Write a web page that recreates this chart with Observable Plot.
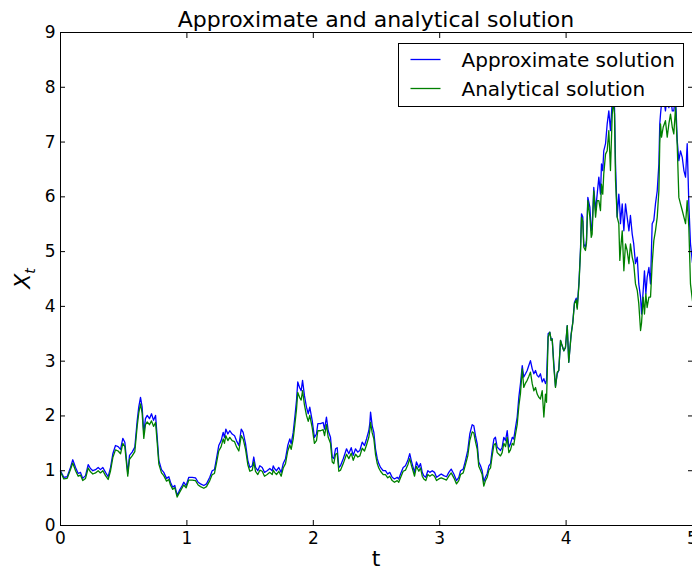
<!DOCTYPE html>
<html>
<head>
<meta charset="utf-8">
<script src="https://cdn.jsdelivr.net/npm/d3@7"></script>
<script src="https://cdn.jsdelivr.net/npm/@observablehq/plot@0.6"></script>
<style>
  body { margin: 0; background: #fff; }
  #chart { position: relative; width: 692px; height: 570px; overflow: hidden; }
  #chart svg.overlay { position: absolute; left: 0; top: 0; pointer-events: none; }
</style>
</head>
<body>
<div id="chart"></div>
<script>
// Time grid of the simulated path
const t = [
  0.000,0.026,0.053,0.079,0.097,0.119,0.140,0.158,0.176,0.198,0.219,0.237,0.256,0.277,0.298,0.316,0.335,0.356,0.377,0.396,
  0.414,0.435,0.456,0.475,0.493,0.509,0.520,0.532,0.546,0.567,0.588,0.607,0.619,0.633,0.646,0.659,0.672,0.686,0.704,0.720,
  0.736,0.752,0.765,0.778,0.799,0.817,0.839,0.857,0.870,0.888,0.904,0.923,0.941,0.963,0.975,0.994,1.015,1.042,1.068,1.089,
  1.108,1.134,1.155,1.181,1.200,1.218,1.234,1.252,1.271,1.287,1.297,1.308,1.324,1.339,1.358,1.377,1.392,1.411,1.430,1.445,
  1.464,1.482,1.498,1.517,1.529,1.543,1.561,1.577,1.596,1.614,1.635,1.656,1.675,1.683,1.693,1.709,1.727,1.746,1.762,1.780,
  1.798,1.814,1.825,1.841,1.854,1.867,1.877,1.891,1.904,1.915,1.930,1.946,1.960,1.972,1.991,2.009,2.025,2.036,2.057,2.078,
  2.089,2.104,2.118,2.136,2.150,2.162,2.176,2.189,2.202,2.215,2.237,2.263,2.281,2.300,2.316,2.334,2.352,2.368,2.387,2.405,
  2.421,2.439,2.447,2.453,2.466,2.479,2.492,2.506,2.518,2.532,2.553,2.571,2.589,2.605,2.624,2.642,2.664,2.676,2.690,2.711,
  2.729,2.748,2.763,2.775,2.790,2.801,2.816,2.835,2.848,2.862,2.874,2.890,2.906,2.922,2.941,2.959,2.975,2.993,3.012,3.032,
  3.054,3.072,3.091,3.112,3.133,3.151,3.165,3.186,3.204,3.222,3.238,3.257,3.270,3.283,3.297,3.309,3.323,3.336,3.349,3.362,
  3.376,3.389,3.402,3.415,3.429,3.441,3.455,3.468,3.481,3.494,3.507,3.521,3.534,3.547,3.560,3.574,3.586,3.600,3.613,3.626,
  3.639,3.653,3.665,3.679,3.692,3.705,3.718,3.732,3.745,3.758,3.771,3.784,3.797,3.811,3.824,3.837,3.845,3.858,3.871,3.882,
  3.890,3.903,3.916,3.930,3.942,3.956,3.969,3.982,3.995,4.009,4.021,4.040,4.053,4.066,4.080,4.088,4.102,4.114,4.122,4.132,
  4.140,4.153,4.161,4.172,4.188,4.199,4.206,4.219,4.233,4.246,4.259,4.272,4.280,4.290,4.298,4.312,4.325,4.338,4.351,4.365,
  4.373,4.383,4.391,4.404,4.417,4.425,4.430,4.444,4.457,4.470,4.483,4.497,4.509,4.523,4.535,4.549,4.563,4.575,4.589,4.597,
  4.610,4.620,4.631,4.641,4.655,4.668,4.681,4.694,4.707,4.721,4.734,4.741,4.747,4.755,4.768,4.786,4.800,4.813,4.826,4.840,
  4.852,4.866,4.879,4.892,4.905,4.919,4.932,4.945,4.958,4.971,4.984,5.000
];

// Euler-Maruyama approximation
const approximate = [
  1.00,0.88,0.89,1.06,1.20,1.06,0.95,0.97,0.86,0.91,1.11,1.04,1.00,1.02,1.06,1.02,1.06,0.97,0.89,1.06,
  1.31,1.46,1.44,1.39,1.59,1.52,1.25,0.95,1.28,1.34,1.43,1.92,2.16,2.34,2.16,1.68,1.95,2.01,1.95,2.04,
  1.92,2.01,1.61,1.19,1.02,0.97,0.86,0.89,0.79,0.70,0.73,0.55,0.64,0.73,0.79,0.73,0.88,0.88,0.87,0.79,
  0.76,0.73,0.76,0.88,1.00,1.02,1.22,1.46,1.55,1.70,1.61,1.76,1.67,1.73,1.67,1.64,1.55,1.46,1.76,1.70,
  1.49,1.19,1.06,1.09,1.25,1.06,1.00,1.09,1.06,0.97,1.00,1.04,1.00,1.09,1.04,1.00,1.06,0.97,1.13,1.22,
  1.46,1.58,1.49,1.70,1.98,2.28,2.62,2.52,2.46,2.65,2.37,2.16,2.04,2.16,1.92,1.61,1.67,1.86,1.86,1.88,
  1.76,1.98,1.73,1.61,1.25,1.22,1.40,1.42,1.06,1.09,1.22,1.40,1.31,1.42,1.28,1.40,1.34,1.37,1.52,1.46,
  1.58,1.73,1.86,2.07,1.82,1.70,1.40,1.22,1.13,1.06,1.00,1.00,0.94,0.97,0.88,0.85,0.88,0.85,0.94,1.06,
  1.09,1.19,1.31,1.19,1.06,0.97,1.16,1.06,1.13,0.97,0.91,0.88,1.00,0.97,1.00,0.97,0.88,0.91,0.94,0.91,
  0.89,0.97,1.03,0.94,0.82,0.88,1.00,1.03,1.19,1.37,1.67,1.84,1.82,1.64,1.49,1.16,1.09,1.00,0.80,0.88,
  0.95,1.09,1.13,1.37,1.58,1.61,1.43,1.40,1.37,1.43,1.61,1.55,1.73,1.43,1.49,1.61,1.58,1.79,1.98,2.34,
  2.59,2.92,2.71,2.77,2.83,2.92,3.01,2.86,2.77,2.83,2.74,2.71,2.77,2.62,2.68,2.59,2.65,3.50,3.53,3.38,
  3.41,2.95,2.54,2.77,2.83,3.38,3.28,3.19,3.25,3.65,2.98,3.50,3.71,4.07,4.15,3.98,4.45,5.05,5.69,5.63,
  5.14,5.08,5.20,5.99,5.81,5.38,5.44,6.17,5.75,6.05,6.36,6.05,6.60,6.48,6.84,6.97,7.33,7.57,7.21,7.75,
  8.15,7.63,6.60,5.63,6.05,5.80,5.51,5.87,5.38,5.87,5.63,5.38,5.66,5.32,5.14,4.78,4.90,4.41,4.17,3.86,
  4.29,4.65,4.23,4.53,4.71,4.41,5.51,5.57,5.87,6.11,6.60,7.33,7.51,7.70,7.90,7.57,7.85,7.63,7.85,7.57,
  7.57,7.85,7.03,6.66,6.84,6.72,6.48,6.36,6.97,5.87,5.14,4.80
];

// Closed-form solution on the same Brownian path
const analytical = [
  0.98,0.85,0.86,1.02,1.14,1.00,0.90,0.92,0.82,0.86,1.05,0.98,0.94,0.96,1.00,0.96,1.00,0.91,0.84,1.00,
  1.24,1.38,1.36,1.31,1.50,1.44,1.18,0.90,1.21,1.27,1.35,1.82,2.05,2.22,2.05,1.59,1.84,1.89,1.84,1.91,
  1.81,1.88,1.51,1.12,0.96,0.91,0.81,0.84,0.74,0.66,0.69,0.52,0.60,0.69,0.74,0.69,0.83,0.83,0.82,0.74,
  0.71,0.68,0.71,0.82,0.93,0.95,1.14,1.36,1.44,1.58,1.50,1.64,1.55,1.61,1.55,1.53,1.44,1.36,1.64,1.58,
  1.39,1.11,0.99,1.01,1.16,0.99,0.93,1.01,0.99,0.90,0.93,0.97,0.93,1.01,0.97,0.93,0.99,0.90,1.05,1.13,
  1.36,1.47,1.39,1.58,1.84,2.12,2.43,2.34,2.29,2.46,2.20,2.01,1.90,2.01,1.79,1.50,1.55,1.73,1.73,1.75,
  1.64,1.84,1.61,1.50,1.16,1.13,1.30,1.32,0.99,1.01,1.13,1.30,1.22,1.32,1.19,1.30,1.25,1.27,1.41,1.36,
  1.47,1.61,1.73,1.88,1.69,1.58,1.30,1.13,1.05,0.99,0.93,0.93,0.87,0.90,0.82,0.79,0.82,0.79,0.87,0.99,
  1.01,1.11,1.22,1.11,0.99,0.90,1.08,0.99,1.05,0.90,0.85,0.82,0.93,0.90,0.93,0.90,0.82,0.85,0.87,0.85,
  0.83,0.90,0.96,0.87,0.76,0.82,0.93,0.96,1.11,1.27,1.55,1.71,1.69,1.53,1.39,1.08,1.01,0.93,0.72,0.82,
  0.88,1.01,1.05,1.27,1.47,1.50,1.33,1.30,1.27,1.33,1.50,1.44,1.61,1.33,1.38,1.50,1.47,1.67,1.84,2.18,
  2.41,2.86,2.52,2.60,2.65,2.72,2.80,2.59,2.46,2.52,2.40,2.34,2.31,2.46,1.98,2.40,2.25,3.44,3.53,3.38,
  3.40,2.89,2.52,2.80,2.83,3.38,3.28,3.19,3.25,3.65,2.98,3.48,3.70,4.05,4.12,3.95,4.41,5.00,5.63,5.55,
  5.08,5.02,5.15,5.93,5.63,5.26,5.32,6.11,5.63,5.93,5.93,5.75,6.23,6.05,6.42,6.78,6.84,7.21,6.48,7.51,
  7.75,7.51,6.30,5.63,5.51,4.84,5.00,5.38,4.65,5.14,5.02,4.78,5.14,4.90,4.78,4.41,4.29,4.05,3.56,3.70,
  4.17,3.86,4.23,3.98,4.17,4.17,4.78,5.20,5.38,5.63,6.11,6.97,7.33,7.09,7.27,7.39,7.09,7.33,7.51,7.27,
  7.15,7.63,6.95,5.99,5.87,5.75,5.63,5.51,5.93,5.44,4.41,4.10
];

const seriesNames = ["Approximate solution", "Analytical solution"];
const seriesColors = ["#0000ff", "#008000"];
const xTicks = [0, 1, 2, 3, 4, 5];
const yTicks = [0, 1, 2, 3, 4, 5, 6, 7, 8, 9];
const titleText = "Approximate and analytical solution";
const xLabel = "t";
const yLabel = ["X", "t"]; // X with subscript t

const approxRows = t.map((ti, i) => ({t: ti, value: approximate[i]}));
const exactRows = t.map((ti, i) => ({t: ti, value: analytical[i]}));

const W = 692, H = 570;
const margin = {top: 32, right: 0, bottom: 45, left: 60};
const intFormat = d3.format("d");

const plot = Plot.plot({
  width: W,
  height: H,
  marginTop: margin.top,
  marginRight: margin.right,
  marginBottom: margin.bottom,
  marginLeft: margin.left,
  style: {fontFamily: "'DejaVu Sans', sans-serif", fontSize: "17px", color: "#000", background: "#fff"},
  x: {domain: [0, 5]},
  y: {domain: [0, 9]},
  marks: [
    Plot.line(approxRows, {x: "t", y: "value", stroke: seriesColors[0], strokeWidth: 1.3}),
    Plot.line(exactRows, {x: "t", y: "value", stroke: seriesColors[1], strokeWidth: 1.3}),
    Plot.frame({stroke: "#000", strokeWidth: 1}),
    Plot.axisX({ticks: xTicks, anchor: "bottom", tickSize: -5, tickPadding: 11, tickFormat: intFormat, label: null}),
    Plot.axisX({ticks: xTicks, anchor: "top", tickSize: -5, fill: "none", label: null}),
    Plot.axisY({ticks: yTicks, anchor: "left", tickSize: -5, tickPadding: 10, tickFormat: intFormat, label: null}),
    Plot.axisY({ticks: yTicks, anchor: "right", tickSize: -5, fill: "none", label: null})
  ]
});

const chart = document.getElementById("chart");
chart.appendChild(plot);

// Title, axis labels and legend drawn on a layer above the plot
const overlay = d3.select(chart).append("svg")
  .attr("class", "overlay")
  .attr("width", W)
  .attr("height", H)
  .style("font-family", "'DejaVu Sans', sans-serif");

const cx = margin.left + (W - margin.left - margin.right) / 2;
const cy = margin.top + (H - margin.top - margin.bottom) / 2;

overlay.append("text")
  .attr("x", cx).attr("y", 27)
  .attr("text-anchor", "middle")
  .attr("font-size", 22)
  .text(titleText);

overlay.append("text")
  .attr("x", cx).attr("y", 566)
  .attr("text-anchor", "middle")
  .attr("font-size", 22)
  .text(xLabel);

const yl = overlay.append("text")
  .attr("transform", `translate(30,${cy}) rotate(-90)`)
  .attr("text-anchor", "middle")
  .attr("font-size", 22);
yl.append("tspan").attr("font-style", "italic").text(yLabel[0]);
yl.append("tspan").attr("font-size", 14).attr("font-style", "italic").attr("dy", 5).text(yLabel[1]);

const legend = overlay.append("g").attr("transform", "translate(398.5,43.5)");
legend.append("rect")
  .attr("width", 285).attr("height", 63)
  .attr("fill", "#fff").attr("stroke", "#000").attr("stroke-width", 1);
seriesNames.forEach((name, i) => {
  const row = legend.append("g").attr("transform", `translate(0,${16 + i * 29})`);
  row.append("line")
    .attr("x1", 12).attr("x2", 42)
    .attr("stroke", seriesColors[i]).attr("stroke-width", 1.3);
  row.append("text")
    .attr("x", 63).attr("y", 7)
    .attr("font-size", 20)
    .text(name);
});
</script>
</body>
</html>
